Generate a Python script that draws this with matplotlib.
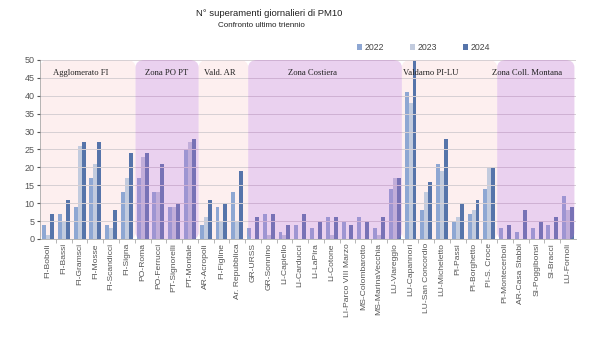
"""Bar chart: daily PM10 limit exceedances per station, last three years,
grouped by zone (shaded bands behind / over the bars)."""
import matplotlib
matplotlib.use("Agg")
import matplotlib.pyplot as plt
from matplotlib.patches import FancyBboxPatch
import numpy as np

plt.rcParams["font.family"] = ["Liberation Sans", "DejaVu Sans"]

STATIONS = [
    "FI-Boboli", "FI-Bassi", "FI-Gramsci", "FI-Mosse", "FI-Scandicci", "FI-Signa",
    "PO-Roma", "PO-Ferrucci", "PT-Signorelli", "PT-Montale",
    "AR-Acropoli", "FI-Figline", "Ar. Repubblica",
    "GR-URSS", "GR-Sonnino", "LI-Capiello", "LI-Carducci", "LI-LaPira", "LI-Cotone",
    "LI-Parco VIII Marzo", "MS-Colombarotto", "MS-MarinaVecchia", "LU-Viareggio",
    "LU-Capannori", "LU-San Concordio", "LU-Micheletto", "PI-Passi", "PI-Borghetto",
    "PI-S. Croce",
    "PI-Montecerboli", "AR-Casa Stabbi", "SI-Poggibonsi", "SI-Bracci", "LU-Fornoli",
]
Y2022 = [4, 7, 9, 17, 4, 13, 17, 13, 9, 25, 4, 9, 13,
         3, 7, 2, 4, 3, 6, 5, 6, 3, 14,
         41, 8, 21, 5, 7, 14, 3, 2, 3, 4, 12]
Y2023 = [1, 5, 26, 21, 3, 17, 23, 13, 9, 27, 6, 5, 5,
         0, 1, 1, 0, 0, 1, 0, 0, 1, 17,
         38, 13, 19, 6, 8, 20, 0, 0, 0, 0, 8]
Y2024 = [7, 11, 27, 27, 8, 24, 24, 21, 10, 28, 11, 10, 19,
         6, 7, 4, 7, 5, 6, 4, 5, 6, 17,
         50, 16, 28, 10, 11, 20, 4, 8, 5, 6, 9]
YEARS = ["2022", "2023", "2024"]

ZONE_NAMES = ["Agglomerato FI", "Zona PO PT", "Vald. AR", "Zona Costiera",
              "Valdarno PI-LU", "Zona Coll. Montana"]
ZONE_EDGES = [-0.5, 5.55, 9.55, 12.7, 22.45, 28.5, 33.4]
ZONE_STYLE = ["pink", "purple", "pink", "purple", "pink", "purple"]
ZONE_LABEL_X = [2.1, 7.5, 10.9, 16.8, 24.3, 30.4]

BAR_COLORS = ["#8ea7d3", "#c2cbde", "#5674aa"]


def main():
    fig = plt.figure(figsize=(6, 3.37), dpi=100)
    ax = fig.add_axes([0.067, 0.291, 0.893, 0.531])

    x = np.arange(len(STATIONS))
    width = 0.25
    for k, (vals, col, lab) in enumerate(zip([Y2022, Y2023, Y2024], BAR_COLORS, YEARS)):
        ax.bar(x + (k - 1) * width, vals, width, color=col, label=lab, zorder=2)

    for name, x0, x1, style, lx in zip(ZONE_NAMES, ZONE_EDGES[:-1], ZONE_EDGES[1:],
                                       ZONE_STYLE, ZONE_LABEL_X):
        if style == "pink":
            patch = FancyBboxPatch((x0, -0.3), x1 - x0, 50.3,
                                   boxstyle="round,pad=0,rounding_size=0.6",
                                   mutation_aspect=3.5,
                                   fc="#fdefef", ec="none", zorder=0)
        else:
            patch = FancyBboxPatch((x0, -0.3), x1 - x0, 50.3,
                                   boxstyle="round,pad=0,rounding_size=0.6",
                                   mutation_aspect=3.5,
                                   fc="#c070d0", alpha=0.32, ec="none", zorder=3)
        ax.add_patch(patch)
        ax.text(lx, 46.5, name, ha="center", va="center", fontsize=6.2,
                family=["Liberation Serif", "DejaVu Serif"], color="#222222", zorder=4)

    ax.set_xlim(-0.5, 33.5)
    ax.set_ylim(0, 50)
    ax.set_yticks(range(0, 51, 5))
    ax.yaxis.grid(True, color="#d6d0d4", lw=0.7, zorder=1)
    ax.set_axisbelow(False)
    ax.tick_params(axis="y", labelsize=6.5, colors="#555555", length=2, pad=2)
    ax.set_xticks(x)
    ax.set_xticklabels(STATIONS, rotation=90, fontsize=6.1, color="#555555")
    ax.tick_params(axis="x", length=0, pad=3)
    ax.set_xticks(x[:-1] + 0.5, minor=True)
    ax.tick_params(axis="x", which="minor", length=3, color="#aaaaaa")
    for side in ["top", "right"]:
        ax.spines[side].set_visible(False)
    ax.spines["left"].set_color("#aaaaaa")
    ax.spines["bottom"].set_color("#aaaaaa")
    ax.spines["left"].set_linewidth(0.6)
    ax.spines["bottom"].set_linewidth(0.6)

    fig.text(0.448, 0.960, "N° superamenti giornalieri di PM10", ha="center",
             va="center", fontsize=6.8, color="#222222")
    fig.text(0.435, 0.924, "Confronto ultimo triennio", ha="center", va="center",
             fontsize=5.8, color="#222222")

    fig.legend(loc="center", bbox_to_anchor=(0.706, 0.858), ncol=3, frameon=False,
               fontsize=6.3, handlelength=0.6, handleheight=0.6, handletextpad=0.3,
               columnspacing=2.9, labelcolor="#444444")

    fig.savefig("out.png", dpi=100)
    plt.close(fig)


if __name__ == "__main__":
    main()
